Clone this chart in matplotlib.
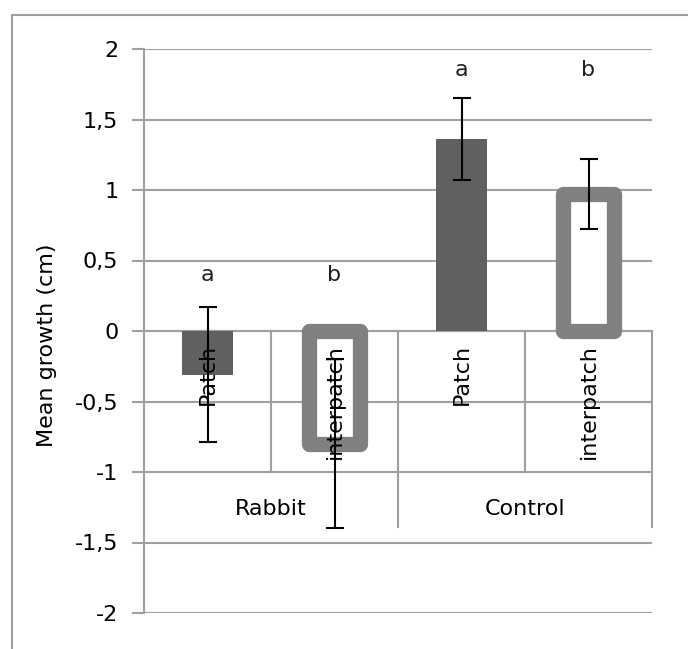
import numpy as np
import matplotlib.pyplot as plt
from matplotlib.patches import Rectangle

# dados
grupos = ['Rabbit', 'Control']
tratamentos = ['Patch', 'interpatch', 'Patch', 'interpatch']
media = [-0.31, -0.80, 1.36, 0.97]
erro = [0.48, 0.60, 0.29, 0.25]
letras = ['a', 'b', 'a', 'b']
pos_letras = [0.40, 0.40, 1.85, 1.85]
yticks = [-2, -1.5, -1, -0.5, 0, 0.5, 1, 1.5, 2]
ytick_labels = ['-2', '-1,5', '-1', '-0,5', '0', '0,5', '1', '1,5', '2']

cinza = '#a0a0a0'
escuro = '#606060'
borda = '#808080'
fs = 16

plt.rcParams['font.family'] = ['DejaVu Sans']

fig = plt.figure(figsize=(6.88, 6.49), dpi=100)
# area do grafico: y=2 em 49 px, y=-2 em 613 px (a partir do topo)
ax = fig.add_axes([144/688, 36/649, (652-144)/688, (613-49)/649])

x = np.arange(len(media))

# barras: cheias para Patch, vazadas para interpatch
for i in range(len(media)):
    if tratamentos[i] == 'Patch':
        ax.bar(x[i], media[i], width=0.4, color=escuro, zorder=3)
    else:
        ax.bar(x[i], media[i], width=0.4, facecolor='white', edgecolor=borda,
               linewidth=11, joinstyle='round', zorder=3)

ax.errorbar(x, media, yerr=erro, fmt='none', ecolor='black', elinewidth=1.5,
            capsize=6.5, capthick=1.5, zorder=5)

for i in range(len(media)):
    ax.text(x[i], pos_letras[i], letras[i], ha='center', va='center',
            fontsize=fs, color='#202020', zorder=6)

# grade horizontal
for yt in yticks:
    ax.axhline(yt, color=cinza, lw=1.5, zorder=1)

# linhas do eixo de categorias (multi-nivel)
ax.plot([-0.5, 3.5], [0, 0], color=cinza, lw=1.5, zorder=2)
for xb in [0.5, 2.5]:
    ax.plot([xb, xb], [0, -1], color=cinza, lw=1.5, zorder=2)
for xb in [1.5, 3.5]:
    ax.plot([xb, xb], [0, -1.39], color=cinza, lw=1.5, zorder=2, clip_on=False)

# rotulos das categorias
for i in range(len(tratamentos)):
    ax.text(x[i], -0.09, tratamentos[i], rotation=90, ha='center', va='top',
            fontsize=fs, color='black', zorder=4)
for j, g in enumerate(grupos):
    ax.text(2*j + 0.5, -1.26, g, ha='center', va='center', fontsize=fs,
            color='black', zorder=4)

ax.set_xlim(-0.5, 3.5)
ax.set_ylim(-2, 2)
ax.set_yticks(yticks)
ax.set_yticklabels(ytick_labels, fontsize=fs)
ax.set_xticks([])
ax.tick_params(axis='y', direction='out', length=8.5, width=1.5, color=cinza, pad=10)
for s in ['top', 'right', 'bottom']:
    ax.spines[s].set_visible(False)
ax.spines['left'].set_color(cinza)
ax.spines['left'].set_linewidth(1.5)
ax.spines['left'].set_zorder(2)

fig.text(47/688, 1 - 345/649, 'Mean growth (cm)', rotation=90, ha='center',
         va='center', fontsize=fs)

# moldura externa do grafico
fig.patches.append(Rectangle((12/688, -0.1), 1.2, 1.1 - 15/649, transform=fig.transFigure,
                             fill=False, edgecolor=cinza, lw=1.5))

fig.savefig('out.png', dpi=100)
